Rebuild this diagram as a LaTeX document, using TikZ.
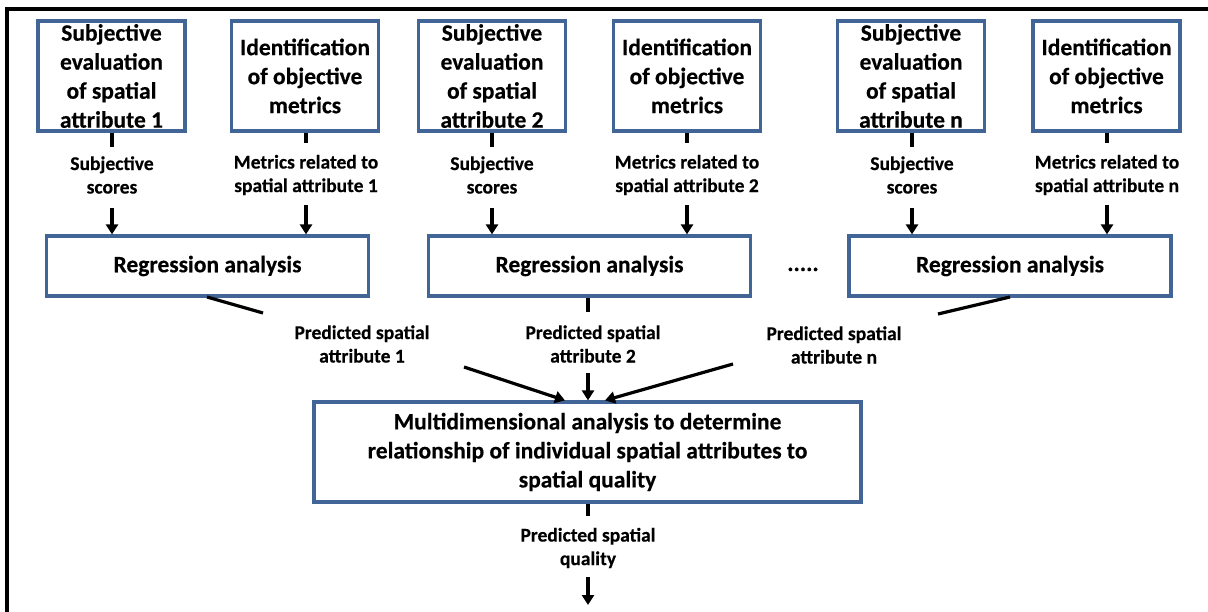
\documentclass[tikz,border=0pt]{standalone}
\usepackage{fontspec}
\setmainfont{Carlito}[BoldFeatures={FakeBold=0.4}]
\usetikzlibrary{arrows.meta}
\definecolor{boxblue}{RGB}{65,101,150}
\begin{document}
\begin{tikzpicture}[x=1pt,y=-1pt,
  box/.style={draw=boxblue, line width=3.2pt, fill=white, align=center, inner sep=0pt,
    font=\fontsize{23.5}{29}\selectfont\bfseries},
  lbl/.style={align=center, inner sep=0pt, font=\fontsize{19.5}{23.5}\selectfont\bfseries},
  conn/.style={line width=3.2pt, black},
  arr/.style={conn, -{Triangle[length=10pt,width=12pt]}},
]
\useasboundingbox (0,0) rectangle (1208,612);
% page frame
\draw[line width=3.2pt] (7,612) -- (7,9) -- (1208,9);

% input boxes
\node[box, minimum width=147pt, minimum height=110pt] (A1) at (111.5,76) {Subjective\\evaluation\\of spatial\\attribute 1};
\node[box, minimum width=147pt, minimum height=110pt] (B1) at (305,76) {Identification\\of objective\\metrics};
\node[box, minimum width=147pt, minimum height=110pt] (A2) at (492,76) {Subjective\\evaluation\\of spatial\\attribute 2};
\node[box, minimum width=147pt, minimum height=110pt] (B2) at (687,76) {Identification\\of objective\\metrics};
\node[box, minimum width=147pt, minimum height=110pt] (An) at (911,76) {Subjective\\evaluation\\of spatial\\attribute n};
\node[box, minimum width=147pt, minimum height=110pt] (Bn) at (1106.5,76) {Identification\\of objective\\metrics};

% regression boxes
\node[box, minimum width=322pt, minimum height=60pt] (R1) at (207.5,266) {Regression analysis};
\node[box, minimum width=322pt, minimum height=60pt] (R2) at (589.5,266) {Regression analysis};
\node[box, minimum width=322pt, minimum height=60pt] (Rn) at (1010,266) {Regression analysis};
\node[box, draw=none, fill=none, anchor=base] (dots) at (803,271) {.....};

% multidimensional analysis box
\node[box, minimum width=547pt, minimum height=100pt] (M) at (587.5,452)
  {Multidimensional analysis to determine\\relationship of individual spatial attributes to\\spatial quality};

% labels
\node[lbl] (S1) at (112,175) {Subjective\\scores};
\node[lbl] (P1) at (306,175) {Metrics related to\\spatial attribute 1};
\node[lbl] (S2) at (492,175) {Subjective\\scores};
\node[lbl] (P2) at (687,175) {Metrics related to\\spatial attribute 2};
\node[lbl] (Sn) at (912,175) {Subjective\\scores};
\node[lbl] (Pn) at (1107,175) {Metrics related to\\spatial attribute n};
\node[lbl] (Q1) at (362,344) {Predicted spatial\\attribute 1};
\node[lbl] (Q2) at (593,344) {Predicted spatial\\attribute 2};
\node[lbl] (Qn) at (834,345) {Predicted spatial\\attribute n};
\node[lbl] (QQ) at (588,548) {Predicted spatial\\quality};

% connector end points
\coordinate (a1e) at (112,147);  \coordinate (a1s) at (112,208);
\coordinate (b1e) at (306,143);  \coordinate (b1s) at (306,205);
\coordinate (a2e) at (492,147);  \coordinate (a2s) at (492,208);
\coordinate (b2e) at (687,143);  \coordinate (b2s) at (687,205);
\coordinate (ane) at (912,147);  \coordinate (ans) at (912,208);
\coordinate (bne) at (1107,143); \coordinate (bns) at (1107,205);
\coordinate (r1o) at (207,297);  \coordinate (r1e) at (263,313);
\coordinate (r2e) at (588,312);
\coordinate (rno) at (1010,297); \coordinate (rne) at (938,314);
\coordinate (q1s) at (464,367);
\coordinate (q2s) at (588,373);
\coordinate (qns) at (733,364);
\coordinate (m1) at (565,396);
\coordinate (mn) at (605,396);
\coordinate (me) at (588,516);
\coordinate (qqs) at (588,577);
\coordinate (out) at (588,605);

% top stubs and arrows into regression boxes
\draw[conn] (A1.south -| a1e) -- (a1e);
\draw[arr] (a1s) -- (a1s |- R1.north);
\draw[conn] (B1.south -| b1e) -- (b1e);
\draw[arr] (b1s) -- (b1s |- R1.north);
\draw[conn] (A2.south -| a2e) -- (a2e);
\draw[arr] (a2s) -- (a2s |- R2.north);
\draw[conn] (B2.south -| b2e) -- (b2e);
\draw[arr] (b2s) -- (b2s |- R2.north);
\draw[conn] (An.south -| ane) -- (ane);
\draw[arr] (ans) -- (ans |- Rn.north);
\draw[conn] (Bn.south -| bne) -- (bne);
\draw[arr] (bns) -- (bns |- Rn.north);

% regression outputs
\draw[conn] (r1o) -- (r1e);
\draw[conn] (R2.south -| r2e) -- (r2e);
\draw[conn] (rno) -- (rne);

% arrows into the multidimensional analysis
\draw[arr] (q1s) -- (m1 |- M.north);
\draw[arr] (q2s) -- (q2s |- M.north);
\draw[arr] (qns) -- (mn |- M.north);

% final output
\draw[conn] (M.south -| me) -- (me);
\draw[arr] (qqs) -- (out);
\end{tikzpicture}
\end{document}
